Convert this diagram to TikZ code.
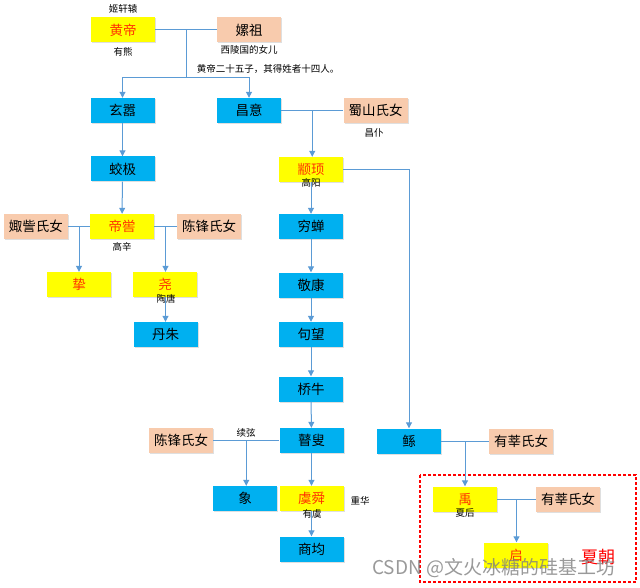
\documentclass[tikz,border=0pt]{standalone}
\usepackage{fontspec}
\setmainfont{Liberation Sans}
\newfontfamily\cjk{Noto Sans CJK SC}
\usepackage{xcolor}
\usetikzlibrary{arrows.meta,calc,shadows}

\definecolor{bluebox}{HTML}{00B0F0}
\definecolor{yellowbox}{HTML}{FFFF00}
\definecolor{peachbox}{HTML}{F8CBAD}
\definecolor{linkblue}{HTML}{5B9BD5}
\definecolor{kingred}{HTML}{FF3300}

\tikzset{
  person/.style={minimum width=64pt, minimum height=25pt, inner sep=0pt,
    font=\cjk\fontsize{13.5}{14}\selectfont,
    drop shadow={opacity=0.25, shadow xshift=1pt, shadow yshift=-1pt}},
  heir/.style={person, fill=bluebox},
  king/.style={person, fill=yellowbox, text=kingred},
  wife/.style={person, fill=peachbox},
  note/.style={font=\cjk\fontsize{9.5}{10}\selectfont, inner sep=0pt},
  link/.style={linkblue, line width=1pt},
  arr/.style={link, -{Triangle[width=6pt,length=6pt]}},
}

\begin{document}
\begin{tikzpicture}[x=1pt,y=-1pt]
\useasboundingbox (0,0) rectangle (640,588);

% Huangdi and Leizu
\node[king] (huangdi) at (123,30) {黄帝};
\node[wife] (leizu) at (249,30) {嫘祖};
\node[note] (huangdiname) at (123,9) {姬轩辕};
\node[note] (youxiong) at (123,52) {有熊};
\node[note] (xiling) at (249,50) {西陵国的女儿};
\node[note] (sons) at (268,69) {黄帝二十五子，其得姓者十四人。};

% second generation
\node[heir] (xuanxiao) at (122.5,110.5) {玄嚣};
\node[heir] (changyi) at (249,110.5) {昌意};
\node[wife] (shushan) at (375.5,110.5) {蜀山氏女};
\node[note] (changpu) at (374,133) {昌仆};

% Xuanxiao line
\node[heir] (jiaoji) at (122.5,169) {蛟极};
\node[king] (diku) at (122,226.5) {帝喾};
\node[note] (gaoxin) at (122,247) {高辛};
\node[wife] (juzi) at (36,226.5) {娵訾氏女};
\node[wife] (chenfeng) at (209,226.5) {陈锋氏女};
\node[king] (zhi) at (79,284.5) {挚};
\node[king] (yao) at (165,284.5) {尧};
\node[note] (taotang) at (166,299) {陶唐};
\node[heir] (danzhu) at (165.5,334.5) {丹朱};

% Changyi line
\node[king] (zhuanxu) at (311,169.5) {颛顼};
\node[note] (gaoyang) at (311,183) {高阳};
\node[heir] (qiongchan) at (311,226.5) {穷蝉};
\node[heir] (jingkang) at (311,285) {敬康};
\node[heir] (juwang) at (311,334.5) {句望};
\node[heir] (qiaoniu) at (311,389) {桥牛};
\node[heir] (gusou) at (311.5,440.5) {瞽叟};
\node[wife] (chenfeng2) at (181,440.5) {陈锋氏女};
\node[note] (xuxian) at (246,433) {续弦};
\node[heir] (xiang) at (245,498.5) {象};
\node[king] (yushun) at (311.5,498.5) {虞舜};
\node[note] (youyu) at (312,514) {有虞};
\node[note] (chonghua) at (360,501) {重华};
\node[heir] (shangjun) at (311.5,549) {商均};

% Gun and Yu
\node[heir] (gun) at (409,441) {鲧};
\node[wife] (youshen) at (521,441) {有莘氏女};
\node[king] (yu) at (465,499) {禹};
\node[note] (xiahou) at (465,513) {夏后};
\node[wife] (youshen2) at (568,499) {有莘氏女};
\node[king] (qi) at (516,555) {启};

% Xia dynasty frame
\draw[red, line width=1.2pt, dash pattern=on 3pt off 2pt] (420,475) rectangle (636,582);
\node[font=\cjk\fontsize{17}{18}\selectfont, text=red, inner sep=0pt] (xiachao) at (598,557) {夏朝};

% marriages and descent
\coordinate (hj) at ($(huangdi.east)!0.5!(leizu.west)$);
\coordinate (hb) at ($(hj)+(0,48)$);
\draw[link] (huangdi) -- (leizu);
\draw[link] (hj) -- (hb);
\draw[arr] (hb) -| (xuanxiao.north);
\draw[arr] (hb) -| (changyi.north);

\draw[arr] (xuanxiao) -- (jiaoji);
\draw[arr] (jiaoji) -- (diku);
\coordinate (dj1) at ($(juzi.east)!0.5!(diku.west)$);
\coordinate (dj2) at ($(diku.east)!0.5!(chenfeng.west)$);
\draw[link] (juzi) -- (diku);
\draw[link] (diku) -- (chenfeng);
\draw[arr] (dj1) -- (dj1 |- zhi.north);
\draw[arr] (dj2) -- (dj2 |- yao.north);
\draw[arr] (yao.south -| dj2) -- (dj2 |- danzhu.north);

\coordinate (cj) at ($(changyi.east)!0.5!(shushan.west)$);
\draw[link] (changyi) -- (shushan);
\draw[arr] (cj) -- (cj |- zhuanxu.north);
\draw[arr] (zhuanxu) -- (qiongchan);
\draw[arr] (qiongchan) -- (jingkang);
\draw[arr] (jingkang) -- (juwang);
\draw[arr] (juwang) -- (qiaoniu);
\draw[arr] (qiaoniu) -- (gusou);
\draw[arr] (gusou) -- (yushun);
\draw[arr] (yushun) -- (shangjun);
\coordinate (gj) at ($(chenfeng2.east)!0.5!(gusou.west)$);
\draw[link] (chenfeng2) -- (gusou);
\draw[arr] (gj) -- (gj |- xiang.north);

\draw[arr] (zhuanxu.east) -| (gun.north);
\coordinate (yj) at ($(gun.east)!0.5!(youshen.west)$);
\draw[link] (gun) -- (youshen);
\draw[arr] (yj) -- (yj |- yu.north);
\coordinate (qj) at ($(yu.east)!0.5!(youshen2.west)$);
\draw[link] (yu) -- (youshen2);
\draw[arr] (qj) -- (qj |- qi.north);

% watermark
\node[font=\cjk\fontsize{19}{20}\selectfont, text=gray, opacity=0.8, anchor=west, inner sep=0pt] (mark) at (372,568) {CSDN @文火冰糖的硅基工坊};
\end{tikzpicture}
\end{document}
